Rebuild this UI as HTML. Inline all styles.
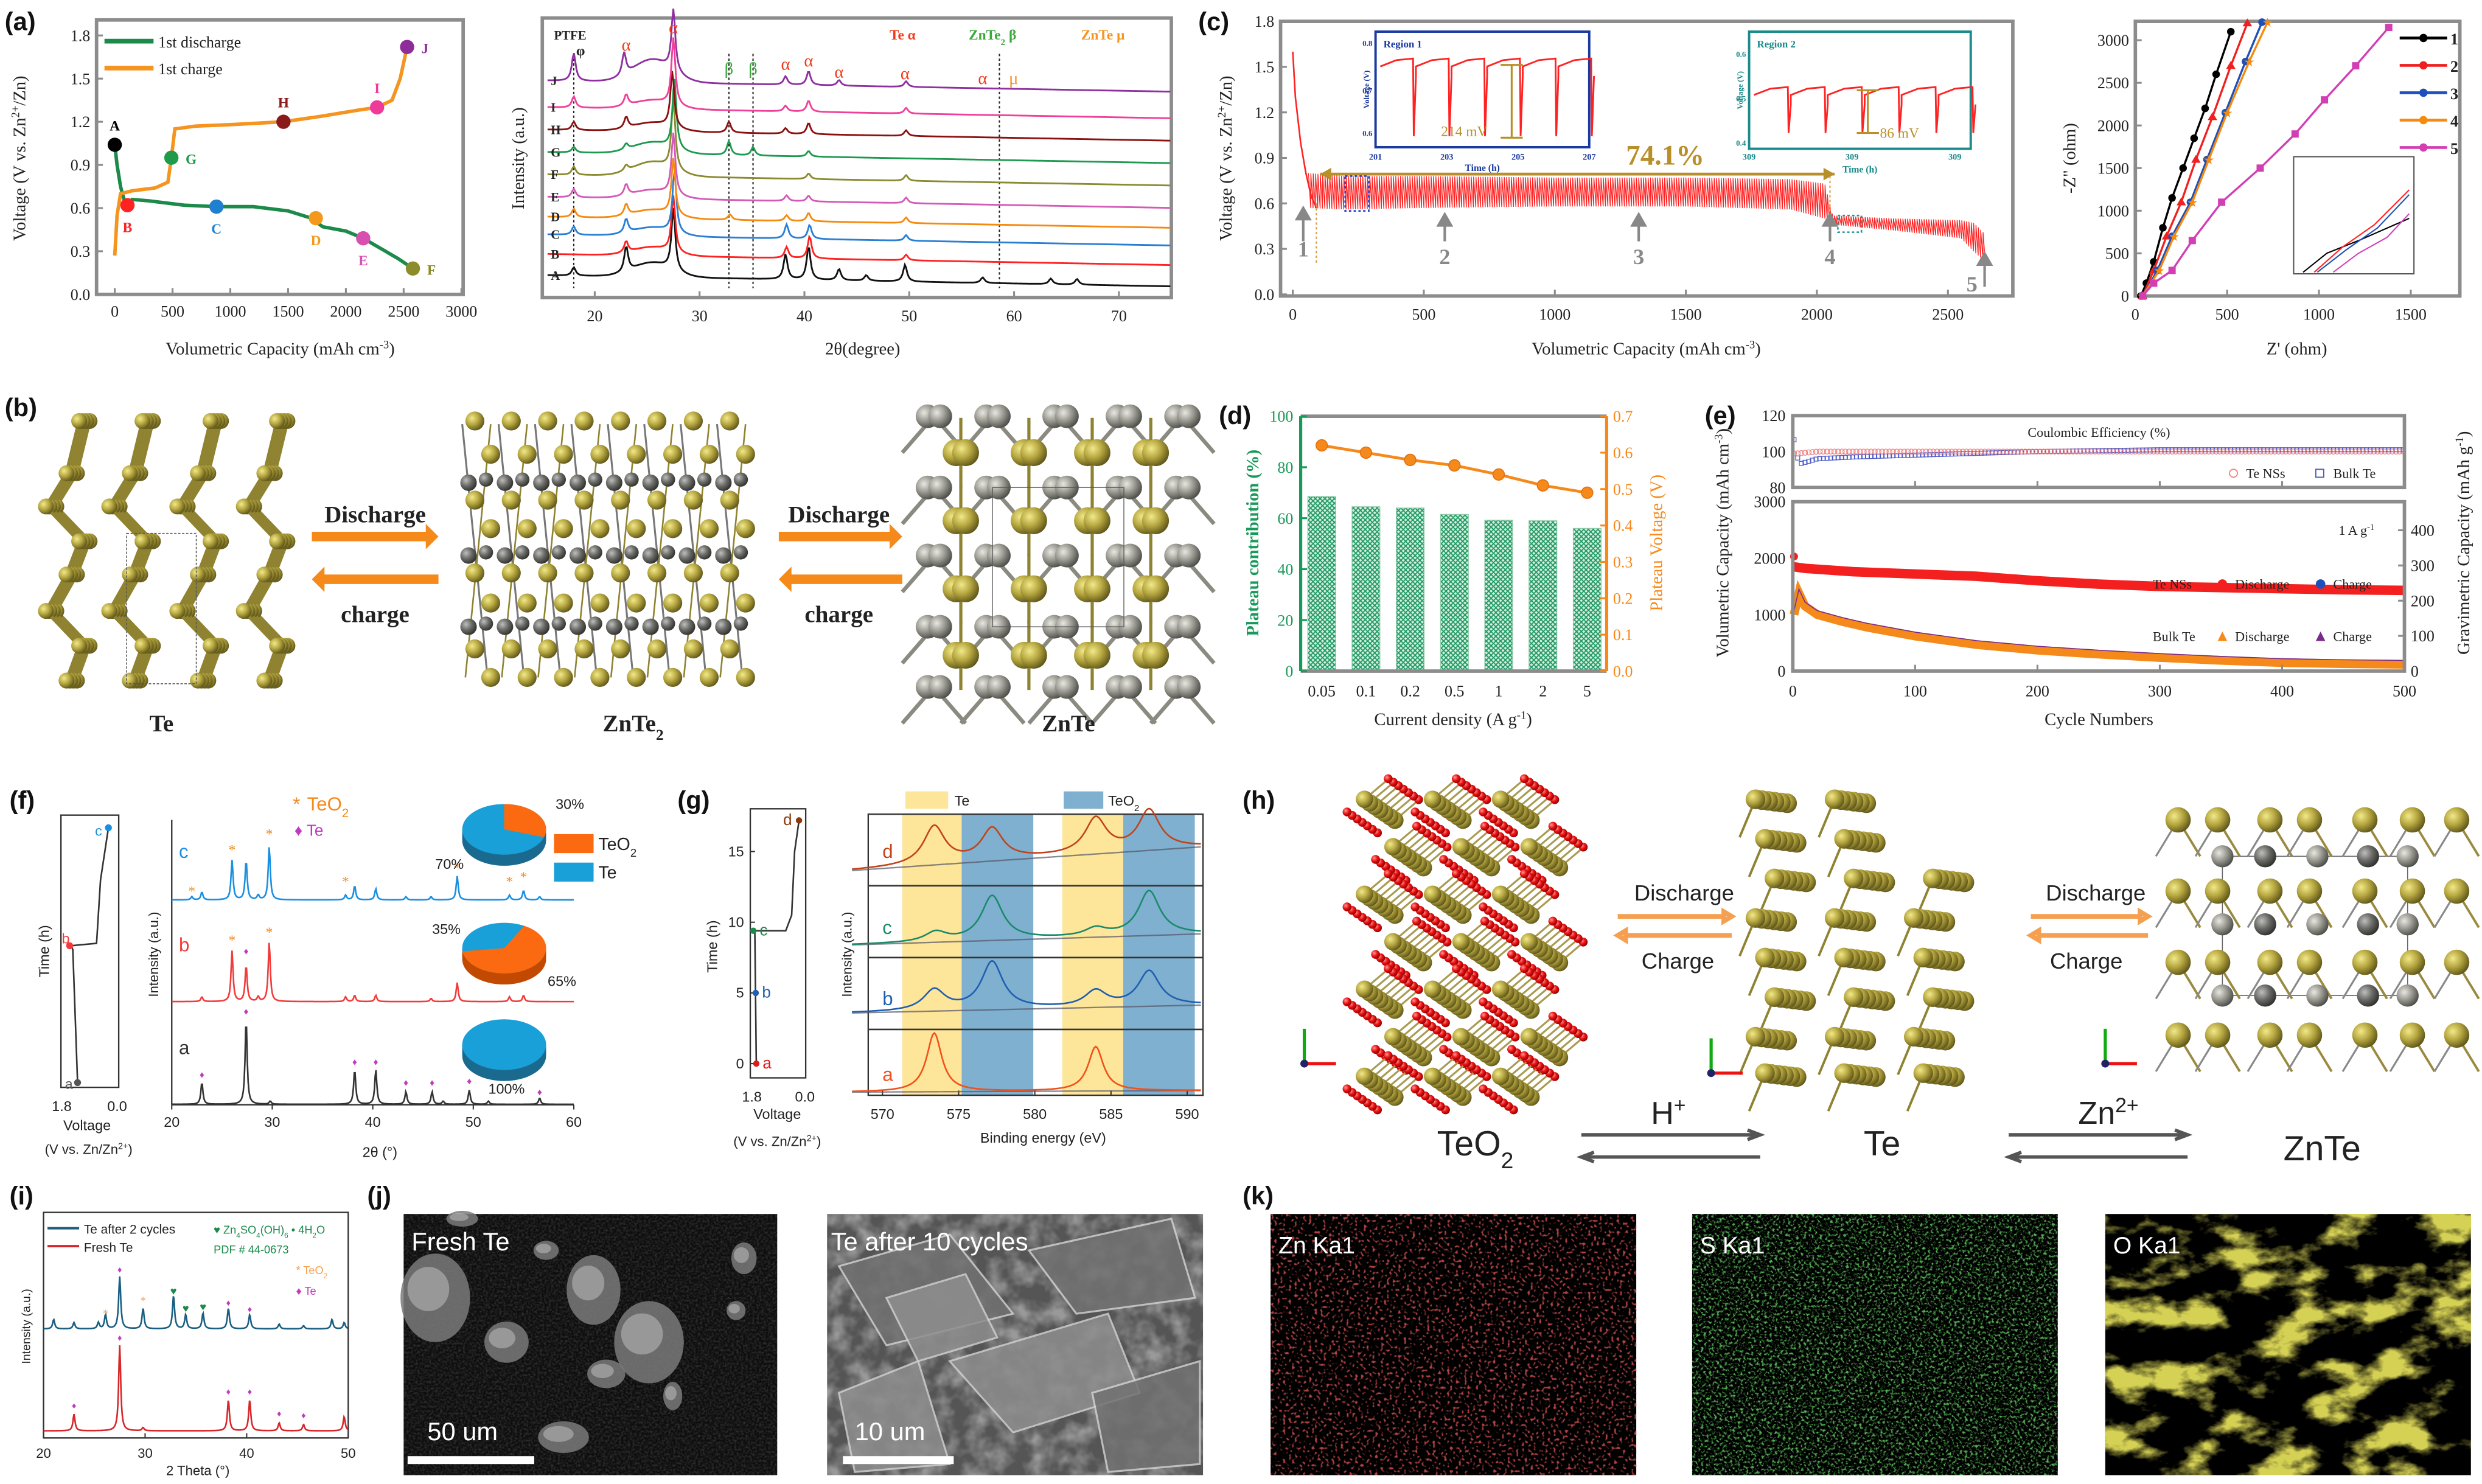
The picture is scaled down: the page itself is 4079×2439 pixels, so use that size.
<!DOCTYPE html>
<html><head><meta charset="utf-8"><title>Te battery figure</title>
<style>html,body{margin:0;padding:0;background:#fff;overflow:hidden}svg{display:block}</style>
</head><body>
<svg id="fig" xmlns="http://www.w3.org/2000/svg" width="4079" height="2439" viewBox="0 0 1568 937.6" preserveAspectRatio="none">
<defs>
<radialGradient id="gOl" cx="0.35" cy="0.35" r="0.7"><stop offset="0" stop-color="#f2e98a"/><stop offset="0.5" stop-color="#b5a640"/><stop offset="1" stop-color="#5d5418"/></radialGradient>
<radialGradient id="gGr" cx="0.35" cy="0.35" r="0.7"><stop offset="0" stop-color="#e8e8e2"/><stop offset="0.5" stop-color="#9a9a92"/><stop offset="1" stop-color="#4a4a46"/></radialGradient>
<radialGradient id="gDk" cx="0.35" cy="0.35" r="0.7"><stop offset="0" stop-color="#bfbfbf"/><stop offset="0.5" stop-color="#6a6a66"/><stop offset="1" stop-color="#2e2e2c"/></radialGradient>
<radialGradient id="gRd" cx="0.35" cy="0.35" r="0.7"><stop offset="0" stop-color="#ff9a9a"/><stop offset="0.5" stop-color="#ee1111"/><stop offset="1" stop-color="#8a0000"/></radialGradient>
<pattern id="hatch" width="3" height="3" patternUnits="userSpaceOnUse"><rect width="3" height="3" fill="#d7efe2"/><path d="M0 0L3 3M3 0L0 3" stroke="#1f9a63" stroke-width="0.7"/></pattern>
<filter id="fZn" x="0" y="0" width="1" height="1"><feTurbulence type="fractalNoise" baseFrequency="0.55" numOctaves="1" seed="3"/><feColorMatrix type="matrix" values="0 0 0 0 0.85  0 0 0 0 0.1  0 0 0 0 0.1  6 0 0 0 -3.3"/></filter>
<filter id="fS" x="0" y="0" width="1" height="1"><feTurbulence type="fractalNoise" baseFrequency="0.6" numOctaves="3" seed="7"/><feColorMatrix type="matrix" values="0 0 0 0 0.15  0 0 0 0 0.75  0 0 0 0 0.15  4 0 0 0 -2.0"/></filter>
<filter id="fO" x="0" y="0" width="1" height="1"><feTurbulence type="fractalNoise" baseFrequency="0.03 0.05" numOctaves="5" seed="11"/><feColorMatrix type="matrix" values="0 0 0 0 0.75  0 0 0 0 0.72  0 0 0 0 0.1  5 0 0 0 -2.4"/></filter>
<filter id="fGrain" x="0" y="0" width="1" height="1"><feTurbulence type="fractalNoise" baseFrequency="0.7" numOctaves="2" seed="5"/><feColorMatrix type="matrix" values="0 0 0 0 0.9  0 0 0 0 0.9  0 0 0 0 0.9  1.6 0 0 0 -0.6"/></filter>
<filter id="fGrain2" x="0" y="0" width="1" height="1"><feTurbulence type="fractalNoise" baseFrequency="0.08" numOctaves="3" seed="2"/><feColorMatrix type="matrix" values="0 0 0 0 0.85  0 0 0 0 0.85  0 0 0 0 0.85  2.2 0 0 0 -0.8"/></filter>
<clipPath id="clipC"><rect x="809" y="13" width="463" height="174"/></clipPath>
</defs>
</svg>
<script>
// ---------------- DATA ----------------
const aDisCap=[0,20,50,80,110,150,300,600,880,1200,1500,1700,1800,2000,2150,2300,2450,2580];
const aDisV=[1.04,0.9,0.75,0.66,0.62,0.66,0.65,0.62,0.61,0.61,0.58,0.53,0.47,0.44,0.39,0.32,0.25,0.18];
const aChCap=[0,20,50,150,350,460,490,520,700,1000,1460,1800,2100,2270,2400,2470,2530];
const aChV=[0.27,0.55,0.7,0.72,0.74,0.78,0.95,1.15,1.17,1.18,1.2,1.24,1.28,1.3,1.35,1.5,1.72];
const aPtLabels=['A','B','C','D','E','F','G','H','I','J'];
const aPtCap=[0,110,880,1740,2150,2580,490,1460,2270,2530];
const aPtV=[1.04,0.62,0.61,0.53,0.39,0.18,0.95,1.2,1.3,1.72];
const aPtColors=['#000','#f22','#1f7fd0','#f39a1e','#d84fb0','#8c8c2a','#1e9a4a','#8b1a1a','#f03a9a','#8e2c9a'];
const aXTicks=[0,500,1000,1500,2000,2500,3000];
const aYTicks=[0.0,0.3,0.6,0.9,1.2,1.5,1.8];
const xrdLabels=['A','B','C','D','E','F','G','H','I','J'];
const xrdColors=['#111','#f22','#2a7fd4','#f58a10','#d45ab8','#8a8a30','#1e9a50','#8b1010','#f0409a','#8e30a0'];
const xrdOffset=[4,11.6,18.6,24.9,32,40,48,56,64,73.5];
const xrdHump=[5,3,3,3,3,5,4,3,3,8];
const xrdPeaks=[
 [[18,3],[23,9],[27.5,22],[38.2,9],[40.4,12],[43.3,4],[45.9,2],[49.6,6],[57,2],[63.5,2],[66,2]],
 [[23,4],[27.5,20],[38.3,4],[40.5,8],[49.7,2]],
 [[18,3],[23,5],[27.6,22],[38.3,5],[40.5,5],[49.7,2]],
 [[18,3],[23,4],[27.5,20],[32.9,2],[38.3,2],[40.4,3],[49.7,2]],
 [[18,3],[23,4],[27.5,22],[38.3,2],[40.4,2],[49.7,2]],
 [[18,3],[23,2],[27.5,25],[40.4,2],[49.7,2]],
 [[18,2],[23,2],[27.6,25],[32.8,5],[35.1,3],[40.4,2]],
 [[18,3],[23,4],[27.4,20],[32.8,4],[38.2,2],[40.4,4],[49.7,2]],
 [[18,4],[23,4],[27.5,24],[38.2,2],[40.4,4],[49.7,2]],
 [[18,10],[22.8,8],[27.5,22],[38.2,3],[40.4,5],[43.3,2],[49.7,2]]];
const xrdXTicks=[20,30,40,50,60,70];
const xrdDotted=[18,32.8,35.1,58.6];
const cEnvCap=[60,200,500,1000,1500,1900,2030,2060,2300,2550,2600,2640];
const cEnvTop=[0.8,0.78,0.78,0.77,0.77,0.76,0.73,0.52,0.5,0.49,0.47,0.4];
const cEnvBot=[0.57,0.56,0.57,0.58,0.58,0.56,0.5,0.46,0.42,0.37,0.28,0.22];
const cInitCap=[0,10,30,50,70,90];
const cInitV=[1.6,1.3,1.0,0.8,0.65,0.57];
const cXTicks=[0,500,1000,1500,2000,2500];
const cYTicks=[0.0,0.3,0.6,0.9,1.2,1.5,1.8];
const cArrowCap=[40,580,1320,2050,2640];
const cArrowLbl=['1','2','3','4','5'];
const eisX=[[30,60,100,150,200,260,320,380,440,520],[40,100,170,250,330,420,520,610],[40,120,200,300,390,490,600,690],[40,130,210,310,400,500,620,720],[40,100,200,310,470,680,870,1030,1200,1380]];
const eisY=[[0,150,400,800,1150,1500,1850,2200,2600,3100],[0,300,700,1100,1600,2100,2700,3200],[0,300,700,1100,1600,2150,2750,3220],[0,300,700,1100,1600,2150,2750,3220],[0,150,300,650,1100,1500,1900,2300,2700,3150]];
const eisColors=['#000','#f02020','#1f4fb8','#f58a10','#d23fb5'];
const eisNames=['1','2','3','4','5'];
const eisXTicks=[0,500,1000,1500];
const eisYTicks=[0,500,1000,1500,2000,2500,3000];
const dCats=['0.05','0.1','0.2','0.5','1','2','5'];
const dContrib=[68.5,64.5,64,61.5,59.2,59,56];
const dVolt=[0.62,0.6,0.58,0.565,0.54,0.51,0.49];
const dYTicks=[0,20,40,60,80,100];
const dY2Ticks=[0.0,0.1,0.2,0.3,0.4,0.5,0.6,0.7];
const eTeCyc=[0,10,50,100,150,200,250,300,350,400,450,500];
const eTeCap=[1850,1820,1760,1720,1680,1600,1540,1500,1480,1460,1440,1430];
const eBulkCyc=[1,5,10,20,40,60,100,150,200,250,300,350,400,450,500];
const eBulkCap=[1000,1380,1150,1000,880,780,620,470,370,300,240,190,150,130,120];
const eCECyc=[0,5,20,50,100,200,300,400,500];
const eTeCE=[99,99,100,100,100,100,100,100,100];
const eBulkCE=[110,93,96,97,98,100,101,101,101];
const eXTicks=[0,100,200,300,400,500];
const eYTicks=[0,1000,2000,3000];
const eY2Ticks=[0,100,200,300,400];
const fXTicks=[20,30,40,50,60];
const fOffsets=[0,10.3,20.5];
const fLabels=['a','b','c'];
const fColors=['#333','#f23a3a','#1a8fe0'];
const fPeaks=[
 [[23,14],[27.4,54],[29.8,2],[38.2,22],[40.3,22],[43.3,8],[45.9,8],[47,2],[49.6,9],[51.5,2],[56.6,4]],
 [[23,3],[26,32],[27.4,23],[28.6,3],[29.7,38],[37.3,3],[38.2,4],[40.3,4],[45.8,2],[48.4,12],[53.6,3],[55,4]],
 [[22,2],[23,5],[26,25],[27.4,25],[28.6,3],[29.7,34],[37.3,3],[38.2,9],[40.3,7],[43.3,2],[45.8,2],[48.4,15],[53.6,3],[55,6],[56.6,2]]];
const pieTeO2=[0,0.65,0.30];
const gTime=[0,9.4,9.4,10.5,15,17.2];
const gVolt=[1.65,1.7,0.65,0.45,0.35,0.2];
const gXTicks=[570,575,580,585,590];
const gLabels=['a','b','c','d'];
const gColors=['#f2501a','#1f5fb0','#1a8a6a','#c0441a'];
const gPeaks=[[[573.4,37],[584,28]],[[573.4,13],[577.2,30],[584,10],[587.5,22]],[[573.5,6],[577.2,28],[584,5],[587.5,28]],[[573.4,24],[577.2,20],[584,22],[587.5,25]]];
const iXTicks=[20,30,40,50];
const iBluePeaks=[[21,6],[23,4],[25.4,4],[26.1,9],[27.5,33],[29.8,13],[32.8,21],[34,9],[35.7,10],[38.2,13],[40.3,9],[43.2,3],[45.6,2],[48.4,6],[49.6,4]];
const iRedPeaks=[[23,10.5],[27.5,54],[29.8,2],[38.2,19.5],[40.3,19.5],[43.2,5],[45.6,4],[49.6,9]];

// ---------------- HELPERS ----------------
const NS='http://www.w3.org/2000/svg';
const root=document.getElementById('fig');
const SERIF='"Liberation Serif", serif', SANS='"Liberation Sans", sans-serif';
function mk(tag,attrs,name,parent){
  const e=document.createElementNS(NS,tag);
  for(const k in attrs) e.setAttribute(k,attrs[k]);
  
  
  (parent||root).appendChild(e);
  return e;
}
function T(x,y,segs,o,name){
  o=o||{};
  const s=o.s||10;
  const t=mk('text',{x:x,y:y,'font-size':s,'font-family':o.f||SERIF,fill:o.c||'#222','text-anchor':o.a||'start','font-weight':o.w||'normal','font-style':o.i||'normal'},name,o.p);
  if(o.r) t.setAttribute('transform','rotate('+o.r+' '+x+' '+y+')');
  if(typeof segs==='string'){t.textContent=segs;return t;}
  segs.forEach(function(sg){
    const ts=document.createElementNS(NS,'tspan');
    
    
    ts.textContent=sg[0];
    if(sg[1]==='sub'){ts.setAttribute('baseline-shift','sub');ts.setAttribute('font-size',s*0.65);}
    if(sg[1]==='sup'){ts.setAttribute('baseline-shift','super');ts.setAttribute('font-size',s*0.65);}
    t.appendChild(ts);
  });
  return t;
}
function lin(d0,d1,r0,r1){return function(v){return r0+(v-d0)*(r1-r0)/(d1-d0);};}
function interp(xs,ys,x){
  if(x<=xs[0])return ys[0];
  for(let i=1;i<xs.length;i++){ if(x<=xs[i]){const t=(x-xs[i-1])/(xs[i]-xs[i-1]);return ys[i-1]+t*(ys[i]-ys[i-1]);} }
  return ys[ys.length-1];
}
function pathD(pts){return pts.map(function(p,i){return (i?'L':'M')+p[0].toFixed(2)+' '+p[1].toFixed(2);}).join('');}
function frame(x0,y0,x1,y1,name,c,w){return mk('rect',{x:x0,y:y0,width:x1-x0,height:y1-y0,fill:'none',stroke:c||'#8c8c8c','stroke-width':w||2.2},name);}
function line(x1,y1,x2,y2,c,w,name,extra){const a={x1:x1,y1:y1,x2:x2,y2:y2,stroke:c,'stroke-width':w};for(const k in (extra||{}))a[k]=extra[k];return mk('line',a,name);}
function lor(x,peaks,w){let s=0;peaks.forEach(function(p){const d=(x-p[0])/w;s+=p[1]/(1+d*d);});return s;}
function ball(cx,cy,r,grad,name){return mk('circle',{cx:cx,cy:cy,r:r,fill:'url(#'+grad+')'},name);}

[['(a)',3,19],['(b)',3,263],['(c)',757,19],['(d)',770,268],['(e)',1077,268],['(f)',6,511],['(g)',428,511],['(h)',785,511],['(i)',6,761],['(j)',232,761],['(k)',785,761]].forEach(function(p){
  T(p[1],p[2],p[0],{s:16,f:SANS,w:'bold',c:'#111'},'panel-label-'+p[0].replace(/[()]/g,''));
});

// (a) left
(function(){
  const X=lin(0,3000,72.5,291.5), Y=lin(0,1.8,186,22.4);
  frame(61,12.6,292.6,186,'a-voltage-frame');
  aXTicks.forEach(function(v){line(X(v),186,X(v),182,'#8c8c8c',1.2,'a-x-tick');T(X(v),200,String(v),{s:10,a:'middle'},'a-x-tick-label');});
  aYTicks.forEach(function(v){line(61,Y(v),65,Y(v),'#8c8c8c',1.2,'a-y-tick');T(57,Y(v)+3.5,v.toFixed(1),{s:10,a:'end'},'a-y-tick-label');});
  T(177,224,[['Volumetric Capacity (mAh cm'],['-3','sup'],[')']],{s:11,a:'middle'},'a-x-axis-title');
  T(16,100,[['Voltage (V vs. Zn'],['2+','sup'],['/Zn)']],{s:11,a:'middle',r:-90},'a-y-axis-title');
  mk('path',{d:pathD(aDisCap.map(function(c,i){return [X(c),Y(aDisV[i])];})),fill:'none',stroke:'#1b8a4a','stroke-width':2.2},'a-discharge-curve');
  mk('path',{d:pathD(aChCap.map(function(c,i){return [X(c),Y(aChV[i])];})),fill:'none',stroke:'#f5941e','stroke-width':2.2},'a-charge-curve');
  aPtLabels.forEach(function(l,i){
    mk('circle',{cx:X(aPtCap[i]),cy:Y(aPtV[i]),r:4.5,fill:aPtColors[i]},'a-state-point-'+l);
    const below=['B','C','D','E'].indexOf(l)>=0, right=['F','G','J'].indexOf(l)>=0;
    T(X(aPtCap[i])+(right?9:0),Y(aPtV[i])+(below?17:(right?4:-9)),l,{s:9,a:right?'start':'middle',c:aPtColors[i],w:'bold'},'a-state-label-'+l);
  });
  line(66,26,97,26,'#1b8a4a',3,'a-legend-swatch-discharge');T(100,30,'1st discharge',{s:10},'a-legend-discharge');
  line(66,43,97,43,'#f5941e',3,'a-legend-swatch-charge');T(100,47,'1st charge',{s:10},'a-legend-charge');
})();

// (a) right XRD
(function(){
  const X=lin(15,75,342.6,740), Y=lin(0,100,188,11);
  frame(342.6,11.4,740,188,'xrd-frame');
  xrdXTicks.forEach(function(v){line(X(v),188,X(v),184,'#8c8c8c',1.2,'xrd-x-tick');T(X(v),203,String(v),{s:10,a:'middle'},'xrd-x-tick-label');});
  T(545,224,[['2'],['\u03B8'],['(degree)']],{s:11,a:'middle'},'xrd-x-axis-title');
  T(331,100,'Intensity (a.u.)',{s:11,a:'middle',r:-90},'xrd-y-axis-title');
  xrdDotted.forEach(function(v){line(X(v),34,X(v),182,'#222',0.8,'xrd-reference-line',{'stroke-dasharray':'1.5,1.5'});});
  xrdLabels.forEach(function(l,k){
    const pts=[];
    for(let t=15.5;t<=75;t+=0.12){
      const base=xrdOffset[k]+4*(75-t)/60;
      const hump=xrdHump[k]*Math.exp(-Math.pow((t-25.5)/2.6,2));
      pts.push([X(t),Y(base+hump+lor(t,xrdPeaks[k],0.22))]);
    }
    mk('path',{d:pathD(pts),fill:'none',stroke:xrdColors[k],'stroke-width':1.1},'xrd-trace-'+l);
    T(348,Y(xrdOffset[k]+4.6)+4,l,{s:8,w:'bold'},'xrd-trace-label-'+l);
  });
  T(350,25,'PTFE',{s:8,w:'bold'},'xrd-ptfe-label');T(364,35,'\u03C6',{s:9,w:'bold'},'xrd-phi-label');
  [[23,32,'\u03B1'],[27.5,21,'\u03B1'],[38.2,44,'\u03B1'],[40.4,42,'\u03B1'],[43.3,49,'\u03B1'],[49.6,50,'\u03B1'],[57,53,'\u03B1']].forEach(function(p){T(X(p[0]),p[1],p[2],{s:11,c:'#f23a1a',a:'middle'},'xrd-te-peak-marker');});
  [[32.8,47],[35.1,47]].forEach(function(p){T(X(p[0]),p[1],'\u03B2',{s:11,c:'#3aa83a',a:'middle'},'xrd-znte2-peak-marker');});
  T(X(58.6)+6,53,'\u03BC',{s:11,c:'#f5941e'},'xrd-znte-peak-marker');
  T(562,25,'Te  \u03B1',{s:9,c:'#f23a1a',w:'bold'},'xrd-legend-te');
  T(612,25,[['ZnTe'],['2','sub'],[' \u03B2']],{s:9,c:'#3aa83a',w:'bold'},'xrd-legend-znte2');
  T(683,25,'ZnTe  \u03BC',{s:9,c:'#f5941e',w:'bold'},'xrd-legend-znte');
})();

// (c) cycling
(function(){
  const X=lin(0,2500,816.7,1230.6), Y=lin(0,1.8,186,13.5);
  const g=mk('g',{'clip-path':'url(#clipC)'},'c-series-group');
  mk('path',{d:pathD(cInitCap.map(function(c,i){return [X(c),Y(cInitV[i])];})),fill:'none',stroke:'#f22','stroke-width':1},'c-initial-discharge',g);
  const pts=[];
  for(let c=cEnvCap[0];c<=cEnvCap[cEnvCap.length-1];c+=9){
    pts.push([X(c),Y(interp(cEnvCap,cEnvTop,c))]);
    pts.push([X(c+8.5),Y(interp(cEnvCap,cEnvBot,c+8.5))]);
  }
  mk('path',{d:pathD(pts),fill:'none',stroke:'#f22','stroke-width':0.5},'c-sawtooth-cycles',g);
  frame(809,13.5,1271.6,187,'c-frame');
  cXTicks.forEach(function(v){line(X(v),187,X(v),183,'#8c8c8c',1.2,'c-x-tick');T(X(v),202,String(v),{s:10,a:'middle'},'c-x-tick-label');});
  cYTicks.forEach(function(v){line(809,Y(v),813,Y(v),'#8c8c8c',1.2,'c-y-tick');T(805,Y(v)+3.5,v.toFixed(1),{s:10,a:'end'},'c-y-tick-label');});
  T(1040,224,[['Volumetric Capacity (mAh cm'],['-3','sup'],[')']],{s:11,a:'middle'},'c-x-axis-title');
  T(778,100,[['Voltage (V vs. Zn'],['2+','sup'],['/Zn)']],{s:11,a:'middle',r:-90},'c-y-axis-title');
  mk('path',{d:'M834 110 L1159 110',stroke:'#b8902a','stroke-width':1.8},'c-retention-arrow');
  mk('path',{d:'M834 110 l7 -4 v8z M1159 110 l-7 -4 v8z',fill:'#b8902a'},'c-retention-arrowheads');
  T(1052,104,'74.1%',{s:18,c:'#b8902a',w:'bold',a:'middle'},'c-retention-label');
  mk('rect',{x:X(200),y:Y(0.78),width:X(290)-X(200),height:Y(0.55)-Y(0.78),fill:'none',stroke:'#2244cc','stroke-dasharray':'1.5,1.5','stroke-width':1},'c-region1-marker');
  mk('rect',{x:X(2080),y:Y(0.52),width:X(2170)-X(2080),height:Y(0.41)-Y(0.52),fill:'none',stroke:'#1a9a9a','stroke-dasharray':'1.5,1.5','stroke-width':1},'c-region2-marker');
  line(X(90),Y(0.6),X(90),Y(0.2),'#d89a40',0.8,'c-start-guide',{'stroke-dasharray':'1.5,1.5'});
  line(X(2050),Y(0.78),X(2050),Y(0.5),'#d89a40',0.8,'c-end-guide',{'stroke-dasharray':'1.5,1.5'});
  cArrowCap.forEach(function(c,i){
    const xx=X(c);
    mk('path',{d:'M'+xx+' '+(i===4?Y(0.05):Y(0.35))+' v-'+(i===0||i===4?14:10)+' l-4 0 l4 -7 l4 7 l-4 0',fill:'#888',stroke:'#888','stroke-width':1.6},'c-marker-arrow-'+cArrowLbl[i]);
    T(i===4?xx-8:xx,i===4?Y(0.02):(i===0?Y(0.25):Y(0.2)),cArrowLbl[i],{s:14,a:'middle',c:'#888',w:'bold'},'c-marker-label-'+cArrowLbl[i]);
  });
  function inset(x0,y0,x1,y1,col,title,yt,top,bot,n,mv,mvx,name){
    mk('rect',{x:x0,y:y0,width:x1-x0,height:y1-y0,fill:'#fff',stroke:col,'stroke-width':1.5},name+'-frame');
    T(x0+5,y0+10,title,{s:6.5,c:col,w:'bold'},name+'-title');
    const w=(x1-x0)/n, p=[];
    for(let k=0;k<n;k++){const xs=x0+3+k*w;p.push([xs,top+2]);p.push([xs+w*0.45,top-2]);p.push([xs+w*0.92,top-3]);p.push([xs+w*0.94,bot]);p.push([xs+w,top+8]);}
    mk('path',{d:pathD(p),fill:'none',stroke:'#f22','stroke-width':1.1},name+'-curve');
    T(x0-4,(y0+y1)/2,'Voltage (V)',{s:5,c:col,a:'middle',r:-90,w:'bold'},name+'-y-title');
    T((x0+x1)/2,y1+15,'Time (h)',{s:6,c:col,a:'middle',w:'bold'},name+'-x-title');
    yt.forEach(function(t){T(x0-2,t[1],t[0],{s:5,c:col,a:'end',w:'bold'},name+'-y-tick-label');});
    T(mvx,y1-7,mv,{s:9,c:'#b8902a',a:'middle'},name+'-delta-label');
  }
  inset(869,20,1004,93,'#1a3aa0','Region 1',[['0.8',29],['0.7',59],['0.6',86]],40,86,6,'214 mV',925,'c-inset-region1');
  ['201','203','205','207'].forEach(function(s,i){T(869+i*45,101,s,{s:5.5,c:'#1a3aa0',a:'middle',w:'bold'},'c-inset1-x-tick-label');});
  line(955,41,955,87,'#b8902a',1.2,'c-inset1-span');mk('path',{d:'M948 41h14 M948 87h14',stroke:'#b8902a','stroke-width':1.2},'c-inset1-span-caps');
  inset(1105,20,1245,94,'#1a8a8a','Region 2',[['0.6',36],['0.5',64],['0.4',92]],58,84,6,'86 mV',1200,'c-inset-region2');
  ['309','309','309'].forEach(function(s,i){T(1105+i*65,101,s,{s:5.5,c:'#1a8a8a',a:'middle',w:'bold'},'c-inset2-x-tick-label');});
  line(1180,57,1180,84,'#b8902a',1.2,'c-inset2-span');mk('path',{d:'M1173 57h14 M1173 84h14',stroke:'#b8902a','stroke-width':1.2},'c-inset2-span-caps');
})();

// (c) EIS
(function(){
  const X=lin(0,1500,1349,1523), Y=lin(0,3000,187,25.4);
  frame(1349,13.5,1554,187,'eis-frame');
  eisXTicks.forEach(function(v){line(X(v),187,X(v),183,'#8c8c8c',1.2,'eis-x-tick');T(X(v),202,String(v),{s:10,a:'middle'},'eis-x-tick-label');});
  eisYTicks.forEach(function(v){line(1349,Y(v),1353,Y(v),'#8c8c8c',1.2,'eis-y-tick');T(1345,Y(v)+3.5,String(v),{s:10,a:'end'},'eis-y-tick-label');});
  T(1451,224,"Z' (ohm)",{s:11,a:'middle'},'eis-x-axis-title');
  T(1311,100,'-Z" (ohm)',{s:11,a:'middle',r:-90},'eis-y-axis-title');
  eisX.forEach(function(xs,k){
    const pts=xs.map(function(x,i){return [X(x),Math.max(14,Y(eisY[k][i]))];});
    mk('path',{d:pathD(pts),fill:'none',stroke:eisColors[k],'stroke-width':1.3},'eis-series-'+eisNames[k]);
    pts.forEach(function(p){
      if(k===1) mk('path',{d:'M'+p[0]+' '+(p[1]-3)+'l3 5h-6z',fill:eisColors[k]},'eis-point');
      else if(k===4) mk('rect',{x:p[0]-2.3,y:p[1]-2.3,width:4.6,height:4.6,fill:eisColors[k]},'eis-point');
      else if(k===3) T(p[0],p[1]+3,'\u2605',{s:8,c:eisColors[k],a:'middle'},'eis-point');
      else mk('circle',{cx:p[0],cy:p[1],r:2.4,fill:eisColors[k]},'eis-point');
    });
    const ly=24+k*17.3;
    line(1516,ly,1546,ly,eisColors[k],1.8,'eis-legend-swatch-'+eisNames[k]);
    mk('circle',{cx:1531,cy:ly,r:2.6,fill:eisColors[k]},'eis-legend-marker-'+eisNames[k]);
    T(1548,ly+4,eisNames[k],{s:10,w:'bold'},'eis-legend-label-'+eisNames[k]);
  });
  mk('rect',{x:1449,y:99,width:76,height:74,fill:'#fff',stroke:'#555','stroke-width':0.8},'eis-inset-frame');
  mk('path',{d:'M1455 172 L1470 160 L1490 152 L1522 138',fill:'none',stroke:'#000','stroke-width':0.8},'eis-inset-1');
  mk('path',{d:'M1462 172 L1480 156 L1500 142 L1522 120',fill:'none',stroke:'#f22','stroke-width':0.8},'eis-inset-2');
  mk('path',{d:'M1464 172 L1482 158 L1502 144 L1522 123',fill:'none',stroke:'#1f4fb8','stroke-width':0.8},'eis-inset-3');
  mk('path',{d:'M1474 172 L1490 160 L1508 150 L1522 135',fill:'none',stroke:'#d23fb5','stroke-width':0.8},'eis-inset-5');
})();

// (b) structures
(function(){
  const cols=[42,82,125,167], ys=[266,299,320,342,363,386,408,430], offs=[8,0,-13,8,0,-13,8,0];
  cols.forEach(function(cx){
    const pts=ys.map(function(y,i){return [cx+offs[i],y];});
    for(let d=3;d>=0;d--){
      mk('path',{d:pathD(pts.map(function(p){return [p[0]+d*2.2,p[1]];})),fill:'none',stroke:'#8f8230','stroke-width':2.2},'b-te-chain-bond');
      pts.forEach(function(p){ball(p[0]+d*2.2,p[1],5,'gOl','b-te-atom');});
    }
  });
  mk('rect',{x:80,y:337,width:44,height:95,fill:'none',stroke:'#555','stroke-width':0.6,'stroke-dasharray':'1.5,1'},'b-te-unit-cell');
  const gray=[305,351,396], ol=[266,287,316,334,362,381,410,428];
  for(let j=0;j<8;j++){const x=300+j*23;line(x-8,268,x+8,428,'#777',1.2,'b-znte2-bond');line(x+10,268,x-6,428,'#8f8230',1,'b-znte2-bond');}
  ol.forEach(function(y,i){for(let j=0;j<8;j++){ball(300+j*23+((i%2)?10:0),y,6,'gOl','b-znte2-te-atom');}});
  gray.forEach(function(y){for(let j=0;j<8;j++){ball(296+j*23,y,5.2,'gDk','b-znte2-zn-atom');ball(307+j*23,y-2,4.5,'gDk','b-znte2-zn-atom');}});
  const gRows=[263,308,351,396,434], oRows=[286,329,372,414];
  const gCols=[590,627,670,710,747], oCols=[607,650,690,727];
  gRows.forEach(function(y){gCols.forEach(function(x){line(x,y,x+20,y+23,'#8a8a80',2.5,'b-znte-bond');line(x,y,x-20,y+23,'#8a8a80',2.5,'b-znte-bond');});});
  oRows.forEach(function(y){oCols.forEach(function(x){line(x,y,x,y-22,'#8f8230',2,'b-znte-bond');line(x,y,x,y+22,'#8f8230',2,'b-znte-bond');});});
  gRows.forEach(function(y){gCols.forEach(function(x){ball(x-4,y,7.5,'gGr','b-znte-zn-atom');ball(x+4,y,7.5,'gGr','b-znte-zn-atom');});});
  oRows.forEach(function(y){oCols.forEach(function(x){ball(x-3,y,8.5,'gOl','b-znte-te-atom');ball(x+3,y,8.5,'gOl','b-znte-te-atom');});});
  mk('rect',{x:627,y:308,width:83,height:88,fill:'none',stroke:'#555','stroke-width':0.5},'b-znte-unit-cell');
  function arrows(x0,x1,name){
    mk('path',{d:'M'+x0+' 336h'+(x1-x0-8)+'v-5l8 8l-8 8v-5h-'+(x1-x0-8)+'z',fill:'#f5891a'},name+'-forward');
    mk('path',{d:'M'+x1+' 363h-'+(x1-x0-8)+'v-5l-8 8l8 8v-5h'+(x1-x0-8)+'z',fill:'#f5891a'},name+'-backward');
  }
  arrows(197,277,'b-arrow-1');arrows(492,570,'b-arrow-2');
  T(237,330,'Discharge',{s:15,w:'bold',a:'middle'},'b-discharge-label-1');
  T(237,393,'charge',{s:15,w:'bold',a:'middle'},'b-charge-label-1');
  T(530,330,'Discharge',{s:15,w:'bold',a:'middle'},'b-discharge-label-2');
  T(530,393,'charge',{s:15,w:'bold',a:'middle'},'b-charge-label-2');
  T(102,462,'Te',{s:15,w:'bold',a:'middle'},'b-te-label');
  T(400,462,[['ZnTe'],['2','sub']],{s:15,w:'bold',a:'middle'},'b-znte2-label');
  T(675,462,'ZnTe',{s:15,w:'bold',a:'middle'},'b-znte-label');
})();

// (d)
(function(){
  const X=lin(0,6,835,1002.7), Y=lin(0,100,424,263), Y2=lin(0,0.7,424,263);
  dCats.forEach(function(c,i){
    mk('rect',{x:X(i)-8.8,y:Y(dContrib[i]),width:17.6,height:424-Y(dContrib[i]),fill:'url(#hatch)',stroke:'#8fc9a8','stroke-width':0.5},'d-bar-'+c);
    T(X(i),440,c,{s:10,a:'middle'},'d-x-tick-label');
  });
  mk('path',{d:pathD(dVolt.map(function(v,i){return [X(i),Y2(v)];})),fill:'none',stroke:'#f5891a','stroke-width':1.8},'d-voltage-line');
  dVolt.forEach(function(v,i){mk('circle',{cx:X(i),cy:Y2(v),r:3.6,fill:'#f5891a',stroke:'#e07010','stroke-width':0.6},'d-voltage-point');});
  line(821.7,263,1015,263,'#8c8c8c',2.2,'d-top-axis');line(821.7,424,1015,424,'#8c8c8c',2.2,'d-bottom-axis');
  line(821.7,263,821.7,424,'#1a9a5a',2,'d-left-axis');line(1015,263,1015,424,'#f5891a',2,'d-right-axis');
  dYTicks.forEach(function(v){line(821.7,Y(v),825.7,Y(v),'#1a9a5a',1.2,'d-y-tick');T(817,Y(v)+3.5,String(v),{s:10,a:'end',c:'#1a9a5a'},'d-y-tick-label');});
  dY2Ticks.forEach(function(v){line(1015,Y2(v),1011,Y2(v),'#f5891a',1.2,'d-y2-tick');T(1019,Y2(v)+3.5,v.toFixed(1),{s:10,c:'#f5891a'},'d-y2-tick-label');});
  T(918,458,[['Current density (A g'],['-1','sup'],[')']],{s:11,a:'middle'},'d-x-axis-title');
  T(795,343,'Plateau contribution (%)',{s:11,a:'middle',r:-90,c:'#1a9a5a',w:'bold'},'d-y-axis-title');
  T(1050,343,'Plateau Voltage (V)',{s:11,a:'middle',r:-90,c:'#f5891a'},'d-y2-axis-title');
})();

// (e)
(function(){
  const X=lin(0,500,1132.6,1519), YT=lin(80,120,308,262.6), YB=lin(0,3000,424,317);
  for(let c=1;c<=500;c+=3){
    mk('rect',{x:X(c)-1.3,y:YT(interp(eCECyc,eBulkCE,c))-1.3,width:2.6,height:2.6,fill:'none',stroke:'#4a5ac8','stroke-width':0.5},'e-ce-bulk-point');
    mk('circle',{cx:X(c),cy:YT(interp(eCECyc,eTeCE,c)),r:1.6,fill:'none',stroke:'#f08080','stroke-width':0.5},'e-ce-te-point');
  }
  mk('path',{d:pathD(eTeCyc.map(function(c,i){return [X(c),YB(eTeCap[i])];})),fill:'none',stroke:'#f42020','stroke-width':6},'e-te-nss-discharge');
  mk('path',{d:pathD(eBulkCyc.map(function(c,i){return [X(c),YB(eBulkCap[i])];})),fill:'none',stroke:'#f5891a','stroke-width':5.5},'e-bulk-te-discharge');
  mk('path',{d:pathD(eBulkCyc.map(function(c,i){return [X(c),YB(eBulkCap[i])-2.5];})),fill:'none',stroke:'#7a2a8a','stroke-width':0.6},'e-bulk-te-charge');
  mk('circle',{cx:X(1),cy:YB(2030),r:2.5,fill:'#f42020'},'e-te-first-point');
  frame(1132.6,262.6,1519,308,'e-ce-frame');frame(1132.6,317,1519,424,'e-capacity-frame');
  eXTicks.forEach(function(v){line(X(v),424,X(v),420,'#8c8c8c',1.2,'e-x-tick');line(X(v),308,X(v),304,'#8c8c8c',1.2,'e-ce-x-tick');T(X(v),440,String(v),{s:10,a:'middle'},'e-x-tick-label');});
  [80,100,120].forEach(function(v){T(1128,YT(v)+3.5,String(v),{s:10,a:'end'},'e-ce-y-tick-label');});
  eYTicks.forEach(function(v){T(1128,YB(v)+3.5,String(v),{s:10,a:'end'},'e-y-tick-label');});
  eY2Ticks.forEach(function(v){const y=424-v*(107/481);line(1519,y,1515,y,'#8c8c8c',1.2,'e-y2-tick');T(1523,y+3.5,String(v),{s:10},'e-y2-tick-label');});
  T(1326,458,'Cycle Numbers',{s:11,a:'middle'},'e-x-axis-title');
  T(1092,343,[['Volumetric Capacity (mAh cm'],['-3','sup'],[')']],{s:11,a:'middle',r:-90},'e-y-axis-title');
  T(1560,343,[['Gravimetric Capacity (mAh g'],['-1','sup'],[')']],{s:11,a:'middle',r:-90},'e-y2-axis-title');
  T(1326,276,'Coulombic Efficiency (%)',{s:8.5,a:'middle'},'e-ce-title');
  mk('circle',{cx:1411,cy:299,r:2.5,fill:'none',stroke:'#f08080','stroke-width':0.7},'e-legend-te-ce-marker');T(1419,302,'Te NSs',{s:8.5},'e-legend-te-ce');
  mk('rect',{x:1463,y:296.5,width:5,height:5,fill:'none',stroke:'#4a5ac8','stroke-width':0.7},'e-legend-bulk-ce-marker');T(1474,302,'Bulk Te',{s:8.5},'e-legend-bulk-ce');
  T(1500,338,[['1 A g'],['-1','sup']],{s:8.5,a:'end'},'e-rate-label');
  T(1360,372,'Te NSs',{s:8.5},'e-legend-te-nss');mk('circle',{cx:1404,cy:369,r:3,fill:'#f42020'},'e-legend-te-discharge-marker');T(1412,372,'Discharge',{s:8.5},'e-legend-te-discharge');mk('circle',{cx:1466,cy:369,r:3,fill:'#1f4fb8'},'e-legend-te-charge-marker');T(1474,372,'Charge',{s:8.5},'e-legend-te-charge');
  T(1360,405,'Bulk Te',{s:8.5},'e-legend-bulk');mk('path',{d:'M1404 399l3 6h-6z',fill:'#f5891a'},'e-legend-bulk-discharge-marker');T(1412,405,'Discharge',{s:8.5},'e-legend-bulk-discharge');mk('path',{d:'M1466 399l3 6h-6z',fill:'#7a2a8a'},'e-legend-bulk-charge-marker');T(1474,405,'Charge',{s:8.5},'e-legend-bulk-charge');
})();

// (f)
(function(){
  mk('rect',{x:38.5,y:515,width:36.5,height:172,fill:'none',stroke:'#333','stroke-width':0.9},'f-time-frame');
  mk('path',{d:'M49 684 L46 600 L45 597.5 L61 596 L63.5 556 L68.5 523',fill:'none',stroke:'#333','stroke-width':1},'f-time-curve');
  mk('circle',{cx:49,cy:684,r:2.2,fill:'#555'},'f-point-a');T(41,688,'a',{s:9,f:SANS,c:'#555'},'f-point-a-label');
  mk('circle',{cx:44,cy:597.5,r:2.2,fill:'#f23a3a'},'f-point-b');T(39,596,'b',{s:9,f:SANS,c:'#f23a3a'},'f-point-b-label');
  mk('circle',{cx:68.5,cy:523,r:2.2,fill:'#1a8fe0'},'f-point-c');T(60,528,'c',{s:9,f:SANS,c:'#1a8fe0'},'f-point-c-label');
  T(39,702,'1.8',{s:9,f:SANS,a:'middle'},'f-voltage-tick-label');T(74,702,'0.0',{s:9,f:SANS,a:'middle'},'f-voltage-tick-label');
  T(55,714,'Voltage',{s:9,f:SANS,a:'middle'},'f-voltage-title');T(56,729,[['(V vs. Zn/Zn'],['2+','sup'],[')']],{s:8.5,f:SANS,a:'middle'},'f-voltage-unit');
  T(31,601,'Time (h)',{s:9,f:SANS,a:'middle',r:-90},'f-time-title');
  const X=lin(20,60,108.5,362.5);
  line(108.5,518,108.5,698,'#333',0.9,'f-xrd-y-axis');line(108.5,698,362.5,698,'#333',0.9,'f-xrd-x-axis');
  fXTicks.forEach(function(v){line(X(v),698,X(v),701,'#333',0.8,'f-xrd-x-tick');T(X(v),712,String(v),{s:9,f:SANS,a:'middle'},'f-xrd-x-tick-label');});
  T(240,731,'2\u03B8 (\u00B0)',{s:9,f:SANS,a:'middle'},'f-xrd-x-title');
  T(100,603,'Intensity (a.u.)',{s:8.5,f:SANS,a:'middle',r:-90},'f-xrd-y-title');
  fLabels.forEach(function(l,k){
    const pts=[];for(let t=20;t<=60;t+=0.08){pts.push([X(t),697.7-fOffsets[k]*6.3-lor(t,fPeaks[k],0.12)]);}
    mk('path',{d:pathD(pts),fill:'none',stroke:fColors[k],'stroke-width':1},'f-xrd-trace-'+l);
    T(113,[666,601,542][k],l,{s:12,f:SANS,c:fColors[k]},'f-xrd-trace-label-'+l);
  });
  [[23,681],[27.4,641],[38.2,673],[40.3,673],[43.3,686],[45.9,686],[49.6,685],[56.6,692],[27.4,603]].forEach(function(p){T(X(p[0]),p[1],'\u2666',{s:6,c:'#c03ac0',a:'middle'},'f-te-marker');});
  [[26,597],[29.7,592],[26,540],[29.7,530],[22,566],[37.3,560],[48.4,551],[53.6,560],[55,557]].forEach(function(p){T(X(p[0]),p[1],'*',{s:9,c:'#f5891a',a:'middle'},'f-teo2-marker');});
  T(185,512,'* ',{s:12,f:SANS,c:'#f5891a'},'f-legend-teo2-star');T(194,512,[['TeO'],['2','sub']],{s:12,f:SANS,c:'#f5891a'},'f-legend-teo2');
  T(186,528,'\u2666 Te',{s:10,f:SANS,c:'#c03ac0'},'f-legend-te');
  const pcy=[660,599,524], rx=26.5, ry=16, dep=7, cx=318.5;
  pieTeO2.forEach(function(fr,k){
    const cy=pcy[k];
    mk('path',{d:'M'+(cx-rx)+' '+cy+' v'+dep+' a'+rx+' '+ry+' 0 0 0 '+(2*rx)+' 0 v-'+dep+'z',fill:fr>0.5?'#c24a00':'#1a6a90'},'f-pie-side-'+k);
    mk('ellipse',{cx:cx,cy:cy,rx:rx,ry:ry,fill:'#1aa0d8'},'f-pie-te-slice-'+k);
    if(fr>0){
      const a0=-Math.PI/2+(k===1?0.5:0), a1=a0+fr*2*Math.PI;
      const p0=[cx+rx*Math.cos(a0),cy+ry*Math.sin(a0)], p1=[cx+rx*Math.cos(a1),cy+ry*Math.sin(a1)];
      mk('path',{d:'M'+cx+' '+cy+' L'+p0[0]+' '+p0[1]+' A'+rx+' '+ry+' 0 '+(fr>0.5?1:0)+' 1 '+p1[0]+' '+p1[1]+'Z',fill:'#fb6a10'},'f-pie-teo2-slice-'+k);
    }
  });
  T(351,511,'30%',{s:9,f:SANS},'f-pie-label');T(284,549,'70%',{s:9,f:SANS,a:'middle'},'f-pie-label');
  T(282,590,'35%',{s:9,f:SANS,a:'middle'},'f-pie-label');T(355,623,'65%',{s:9,f:SANS,a:'middle'},'f-pie-label');
  T(320,691,'100%',{s:9,f:SANS,a:'middle'},'f-pie-label');
  mk('rect',{x:350,y:527,width:25,height:12,fill:'#fb6a10'},'f-legend-teo2-swatch');T(378,537,[['TeO'],['2','sub']],{s:11,f:SANS},'f-pie-legend-teo2');
  mk('rect',{x:350,y:545,width:25,height:12,fill:'#1aa0d8'},'f-legend-te-swatch');T(378,555,'Te',{s:11,f:SANS},'f-pie-legend-te');
})();

// (g)
(function(){
  const VY=lin(0,15,672,538), VX=lin(1.8,0,475,508.5);
  mk('rect',{x:474,y:511,width:35,height:170,fill:'none',stroke:'#333','stroke-width':0.9},'g-time-frame');
  [0,5,10,15].forEach(function(v){line(474,VY(v),477,VY(v),'#333',0.8,'g-time-tick');T(470,VY(v)+3,String(v),{s:9,f:SANS,a:'end'},'g-time-tick-label');});
  mk('path',{d:pathD(gTime.map(function(t,i){return [VX(gVolt[i]),VY(t)];})),fill:'none',stroke:'#333','stroke-width':1},'g-time-curve');
  [['a',0,1.65,'#e01a1a'],['b',5,1.67,'#1f5fb0'],['c',9.4,1.75,'#1a8a4a'],['d',17.2,0.2,'#8b3a10']].forEach(function(p){
    mk('circle',{cx:VX(p[2]),cy:VY(p[1]),r:2,fill:p[3]},'g-point-'+p[0]);
    T(VX(p[2])+(p[0]==='d'?-10:4),VY(p[1])+3,p[0],{s:10,f:SANS,c:p[3]},'g-point-label-'+p[0]);
  });
  T(475,696,'1.8',{s:9,f:SANS,a:'middle'},'g-voltage-tick-label');T(508.5,696,'0.0',{s:9,f:SANS,a:'middle'},'g-voltage-tick-label');
  T(491,707,'Voltage',{s:9,f:SANS,a:'middle'},'g-voltage-title');T(491,724,[['(V vs. Zn/Zn'],['2+','sup'],[')']],{s:8.5,f:SANS,a:'middle'},'g-voltage-unit');
  T(453,598,'Time (h)',{s:9,f:SANS,a:'middle',r:-90},'g-time-title');
  const X=lin(570,590,557.5,750);
  [[571.3,575.2,'#fde59a'],[575.2,579.9,'#7fb0cf'],[581.8,585.8,'#fde59a'],[585.8,590.5,'#7fb0cf']].forEach(function(b,i){
    mk('rect',{x:X(b[0]),y:514.4,width:X(b[1])-X(b[0]),height:177.6,fill:b[2]},'g-band-'+i);
  });
  mk('rect',{x:548.5,y:514.4,width:211.5,height:177.6,fill:'none',stroke:'#333','stroke-width':0.9},'g-xps-frame');
  [559.6,605,650.4].forEach(function(y){line(548.5,y,760,y,'#333',1,'g-xps-separator');});
  gXTicks.forEach(function(v){line(X(v),692,X(v),689,'#333',0.8,'g-xps-x-tick');T(X(v),707,String(v),{s:9,f:SANS,a:'middle'},'g-xps-x-tick-label');});
  T(659,722,'Binding energy (eV)',{s:9,f:SANS,a:'middle'},'g-xps-x-title');
  T(538,603,'Intensity (a.u.)',{s:8.5,f:SANS,a:'middle',r:-90},'g-xps-y-title');
  const base=[690,640,597,550];
  gLabels.forEach(function(l,k){
    const pts=[],bg=[];
    for(let e=568;e<=591;e+=0.1){
      const b=base[k]-(k===0?1:(k===1?5:(k===2?7:15)))*(e-568)/23;
      bg.push([X(e),b]);pts.push([X(e),b-lor(e,gPeaks[k],k===0?0.6:0.85)]);
    }
    mk('path',{d:pathD(bg),fill:'none',stroke:'#556','stroke-width':0.9,opacity:0.7},'g-xps-background-'+l);
    mk('path',{d:pathD(pts),fill:'none',stroke:gColors[k],'stroke-width':1},'g-xps-trace-'+l);
    T(557.5,[683,635,590,542][k],l,{s:12,f:SANS,c:gColors[k]},'g-xps-trace-label-'+l);
  });
  mk('rect',{x:572,y:500,width:27,height:11,fill:'#fde59a'},'g-legend-te-swatch');T(603,509,'Te',{s:9,f:SANS},'g-legend-te');
  mk('rect',{x:672,y:500,width:25,height:11,fill:'#7fb0cf'},'g-legend-teo2-swatch');T(700,509,[['TeO'],['2','sub']],{s:9,f:SANS},'g-legend-teo2');
})();

// (h)
(function(){
  const sx=[862,905,948], sy=[505,535,565,595,625,655,680];
  sy.forEach(function(y,r){sx.forEach(function(x0){
    const x=x0+(r%2?18:0);
    if(x>1000) return;
    for(let d=6;d>=0;d--){
      const xx=x+d*3.2, yy=y+d*2.2;
      line(xx,yy,xx+13,yy-11,'#a89a50',1.2,'h-teo2-bond');
      mk('circle',{cx:xx+15,cy:yy-13,r:2.8,fill:'url(#gRd)'},'h-teo2-o-atom');
      mk('circle',{cx:xx-11,cy:yy+8,r:2.8,fill:'url(#gRd)'},'h-teo2-o-atom');
      ball(xx,yy,5.5,'gOl','h-teo2-te-atom');
    }
  });});
  const tx=[1115,1165,1215], tyr=[505,530,555,580,605,630,655,678];
  tyr.forEach(function(y,r){tx.forEach(function(x0,c){
    if(c===2&&r<2) return;
    const x=x0+((r%3)-1)*6;
    line(x,y,x-10,y+24,'#8f8230',1.5,'h-te-bond');
    for(let d=5;d>=0;d--){ball(x+d*4,y+d*0.5,6.2,'gOl','h-te-atom');}
  });});
  mk('rect',{x:1404,y:541,width:117,height:88,fill:'none',stroke:'#666','stroke-width':0.6},'h-znte-unit-cell');
  [518,563,608,654].forEach(function(y){[1376,1401,1434,1459,1494,1524,1552].forEach(function(x){line(x,y,x+14,y+23,'#9a8a40',1.5,'h-znte-bond');line(x,y,x-14,y+23,'#888',1.2,'h-znte-bond');});});
  [541,584,629].forEach(function(y){[1404,1431,1464,1496,1521].forEach(function(x,c){ball(x,y,7,c%2?'gDk':'gGr','h-znte-zn-atom');});});
  [518,563,608,654].forEach(function(y){[1376,1401,1434,1459,1494,1524,1552].forEach(function(x){ball(x,y,8,'gOl','h-znte-te-atom');});});
  function arr(x0,x1,name){
    mk('path',{d:'M'+x0+' 579H'+(x1-5)+'v-3l5 3l-5 3v-3',fill:'none',stroke:'#f5a050','stroke-width':3},name+'-forward');
    mk('path',{d:'M'+x1+' 591H'+(x0+5)+'v-3l-5 3l5 3v-3',fill:'none',stroke:'#f5a050','stroke-width':3},name+'-backward');
  }
  arr(1022,1094,'h-arrow-1');arr(1283,1357,'h-arrow-2');
  T(1064,569,'Discharge',{s:14,f:SANS,a:'middle'},'h-discharge-label-1');T(1060,612,'Charge',{s:14,f:SANS,a:'middle'},'h-charge-label-1');
  T(1324,569,'Discharge',{s:14,f:SANS,a:'middle'},'h-discharge-label-2');T(1318,612,'Charge',{s:14,f:SANS,a:'middle'},'h-charge-label-2');
  [[824,672],[1081,678],[1330,672]].forEach(function(a){
    line(a[0],a[1],a[0],a[1]-22,'#1a1',2,'h-axis-triad-up');line(a[0],a[1],a[0]+20,a[1],'#e11',2,'h-axis-triad-right');mk('circle',{cx:a[0],cy:a[1],r:2.5,fill:'#226'},'h-axis-triad-origin');
  });
  T(932,730,[['TeO'],['2','sub']],{s:22,f:SANS,a:'middle'},'h-teo2-formula');
  T(1189,730,'Te',{s:22,f:SANS,a:'middle'},'h-te-formula');
  T(1467,733,'ZnTe',{s:22,f:SANS,a:'middle'},'h-znte-formula');
  T(1054,710,[['H'],['+','sup']],{s:20,f:SANS,a:'middle'},'h-proton-label');
  T(1332,710,[['Zn'],['2+','sup']],{s:20,f:SANS,a:'middle'},'h-zinc-label');
  [[999,1112],[1269,1382]].forEach(function(a,i){
    mk('path',{d:'M'+a[0]+' 717H'+a[1]+' M'+(a[1]-8)+' 714L'+a[1]+' 717L'+(a[1]-8)+' 720',fill:'none',stroke:'#555','stroke-width':2.2},'h-reaction-forward-'+i);
    mk('path',{d:'M'+a[1]+' 731H'+a[0]+' M'+(a[0]+8)+' 728L'+a[0]+' 731L'+(a[0]+8)+' 734',fill:'none',stroke:'#555','stroke-width':2.2},'h-reaction-backward-'+i);
  });
})();

// (i)
(function(){
  const X=lin(20,50,27.5,220);
  mk('rect',{x:27.5,y:766,width:192.5,height:142.5,fill:'none',stroke:'#333','stroke-width':0.9},'i-frame');
  iXTicks.forEach(function(v){line(X(v),908.5,X(v),905.5,'#333',0.8,'i-x-tick');T(X(v),921,String(v),{s:8.5,f:SANS,a:'middle'},'i-x-tick-label');});
  T(125,932,'2 Theta (\u00B0)',{s:8.5,f:SANS,a:'middle'},'i-x-title');
  T(19,838,'Intensity (a.u.)',{s:7.5,f:SANS,a:'middle',r:-90},'i-y-title');
  [[iBluePeaks,839.6,'#1a5f82','blue'],[iRedPeaks,904,'#d8262a','red']].forEach(function(s){
    const pts=[];for(let t=20;t<=50;t+=0.06){pts.push([X(t),s[1]-lor(t,s[0],0.12)]);}
    mk('path',{d:pathD(pts),fill:'none',stroke:s[2],'stroke-width':1},'i-trace-'+s[3]);
  });
  line(30,776,50,776,'#1a5f82',1.5,'i-legend-cycled-swatch');T(53,779.5,'Te after 2 cycles',{s:8,f:SANS},'i-legend-cycled');
  line(30,787.3,50,787.3,'#d8262a',1.5,'i-legend-fresh-swatch');T(53,791,'Fresh Te',{s:8,f:SANS},'i-legend-fresh');
  T(135,779.5,[['\u2665 Zn'],['4','sub'],['SO'],['4','sub'],['(OH)'],['6','sub'],[' \u2022 4H'],['2','sub'],['O']],{s:7,f:SANS,c:'#1a8a4a'},'i-legend-zinc-hydroxide');
  T(135,792,'PDF # 44-0673',{s:7,f:SANS,c:'#1a8a4a'},'i-legend-pdf');
  T(187,805,[['* TeO'],['2','sub']],{s:7,f:SANS,c:'#f5a050'},'i-legend-teo2');
  T(187,818,'\u2666 Te',{s:7,f:SANS,c:'#c03ac0'},'i-legend-te');
  [[27.5,804],[23,890],[27.5,847],[38.2,881],[40.3,881],[43.2,895],[45.6,896],[38.2,825],[40.3,829]].forEach(function(p){T(X(p[0]),p[1],'\u2666',{s:5.5,c:'#c03ac0',a:'middle'},'i-te-marker');});
  [[32.8,818],[34,829],[35.7,828]].forEach(function(p){T(X(p[0]),p[1],'\u2665',{s:7,c:'#1a8a4a',a:'middle'},'i-zinc-hydroxide-marker');});
  [[26.1,832],[29.8,824]].forEach(function(p){T(X(p[0]),p[1],'*',{s:7,c:'#f5a050',a:'middle'},'i-teo2-marker');});
})();

// (j) SEM
(function(){
  mk('rect',{x:255,y:767,width:236,height:165,fill:'#0e0e0e'},'j-sem-fresh-background');
  mk('rect',{x:255,y:767,width:236,height:165,filter:'url(#fGrain)',opacity:0.2},'j-sem-fresh-texture');
  [[275,820,22,28],[320,848,14,13],[375,815,17,22],[410,848,22,26],[345,790,8,6],[383,868,12,9],[356,908,16,10],[470,795,8,10],[425,882,6,9],[465,828,6,6],[292,770,10,5]].forEach(function(b){
    mk('ellipse',{cx:b[0],cy:b[1],rx:b[2],ry:b[3],fill:'#7a7a7a',opacity:0.85},'j-sem-particle');
    mk('ellipse',{cx:b[0]-b[2]*0.2,cy:b[1]-b[3]*0.2,rx:b[2]*0.6,ry:b[3]*0.5,fill:'#bdbdbd',opacity:0.55},'j-sem-particle-highlight');
  });
  mk('rect',{x:257.5,y:920,width:80,height:5,fill:'#fff'},'j-scale-bar-fresh');
  T(260,790,'Fresh Te',{s:16,f:SANS,c:'#fff'},'j-fresh-label');T(270,910,'50 um',{s:16,f:SANS,c:'#fff'},'j-fresh-scale-label');
  mk('rect',{x:522.5,y:767,width:237.5,height:165,fill:'#555'},'j-sem-cycled-background');
  mk('rect',{x:522.5,y:767,width:237.5,height:165,filter:'url(#fGrain2)',opacity:0.45},'j-sem-cycled-texture');
  [[530,800,600,780,640,830,560,850],[600,860,700,830,720,880,640,905],[650,790,740,770,755,820,680,830],[530,880,580,860,600,925,540,930],[690,880,758,860,758,925,700,930],[560,820,610,805,630,845,580,860]].forEach(function(p,i){
    mk('polygon',{points:p.join(' '),fill:i%2?'#8e8e8e':'#727272',stroke:'#cfcfcf','stroke-width':1.2,opacity:0.85},'j-sem-flake');
  });
  mk('rect',{x:532.5,y:920,width:70,height:5,fill:'#fff'},'j-scale-bar-cycled');
  T(525,790,'Te after 10 cycles',{s:16,f:SANS,c:'#fff'},'j-cycled-label');T(540,910,'10 um',{s:16,f:SANS,c:'#fff'},'j-cycled-scale-label');
})();

// (k) EDS maps
(function(){
  [[802.7,'fZn','Zn Ka1','zn',0.75],[1069,'fS','S Ka1','s',0.8],[1330,'fO','O Ka1','o',0.95]].forEach(function(m){
    mk('rect',{x:m[0],y:767,width:231,height:165,fill:'#000'},'k-map-'+m[3]+'-background');
    mk('rect',{x:m[0],y:767,width:231,height:165,filter:'url('+'#'+m[1]+')',opacity:m[4]},'k-map-'+m[3]+'-signal');
    T(m[0]+5,792,m[2],{s:15,f:SANS,c:'#fff'},'k-map-'+m[3]+'-label');
  });
})();
</script>
</body></html>
